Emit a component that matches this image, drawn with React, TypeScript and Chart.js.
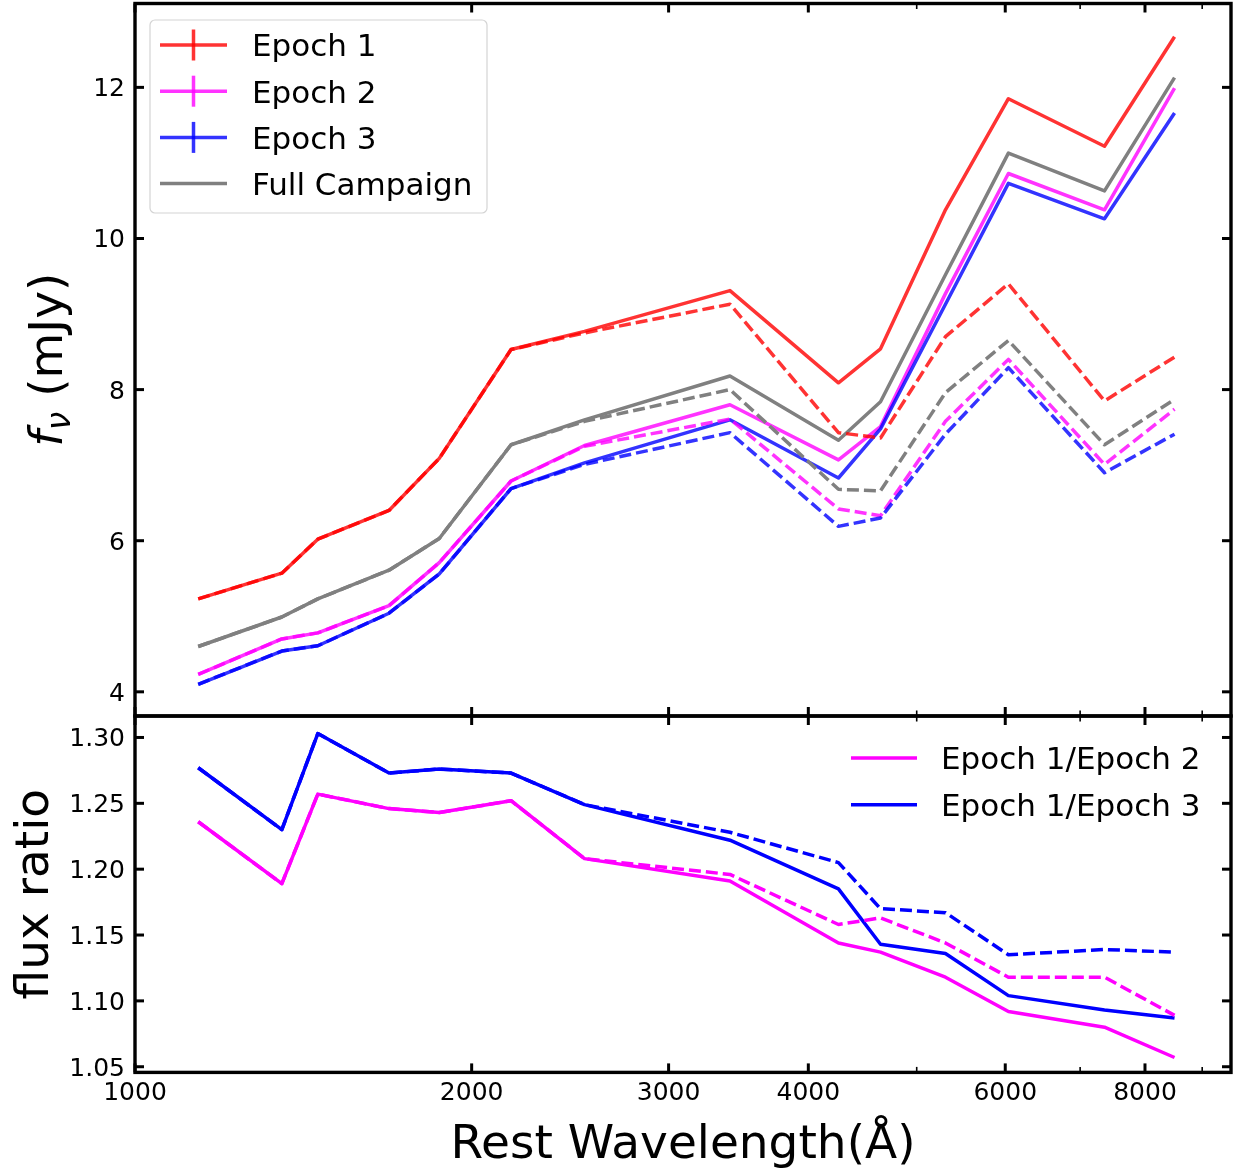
import React, { useEffect, useRef } from 'react';
import { Chart, registerables } from 'chart.js';

Chart.register(...registerables);

// ---------------- data ----------------
const wavelengths = [1139, 1353, 1457, 1687, 1871, 2169, 2523, 3404, 4256, 4641, 5305, 6039, 7360, 8502];

const epoch1 = [5.23, 5.57, 6.02, 6.40, 7.09, 8.53, 8.77, 9.31, 8.09, 8.54, 10.38, 11.85, 11.22, 12.67];
const epoch2 = [4.23, 4.70, 4.78, 5.14, 5.71, 6.79, 7.26, 7.80, 7.07, 7.51, 9.27, 10.86, 10.38, 11.99];
const epoch3 = [4.10, 4.54, 4.61, 5.04, 5.56, 6.69, 7.03, 7.60, 6.83, 7.48, 9.13, 10.73, 10.26, 11.66];
const fullCampaign = [4.60, 4.99, 5.23, 5.61, 6.03, 7.27, 7.60, 8.18, 7.33, 7.84, 9.52, 11.13, 10.63, 12.13];

const epoch1Dashed = [5.23, 5.57, 6.02, 6.40, 7.09, 8.53, 8.75, 9.13, 7.43, 7.36, 8.70, 9.40, 7.85, 8.43];
const epoch2Dashed = [4.23, 4.70, 4.78, 5.14, 5.71, 6.79, 7.25, 7.61, 6.42, 6.33, 7.58, 8.40, 7.01, 7.74];
const epoch3Dashed = [4.10, 4.54, 4.61, 5.04, 5.56, 6.69, 7.01, 7.43, 6.19, 6.30, 7.41, 8.29, 6.90, 7.41];
const fullCampaignDashed = [4.60, 4.99, 5.23, 5.61, 6.03, 7.27, 7.58, 8.00, 6.68, 6.66, 7.96, 8.65, 7.27, 7.87];

const ratio12 = [1.236, 1.189, 1.257, 1.246, 1.243, 1.252, 1.208, 1.191, 1.144, 1.137, 1.118, 1.092, 1.080, 1.057];
const ratio12Dashed = [1.236, 1.189, 1.257, 1.246, 1.243, 1.252, 1.208, 1.196, 1.158, 1.163, 1.144, 1.118, 1.118, 1.089];
const ratio13 = [1.277, 1.230, 1.303, 1.273, 1.276, 1.273, 1.249, 1.222, 1.185, 1.143, 1.136, 1.104, 1.093, 1.087];
const ratio13Dashed = [1.277, 1.230, 1.303, 1.273, 1.276, 1.273, 1.249, 1.228, 1.205, 1.170, 1.167, 1.135, 1.139, 1.137];

const topYTicks = [4, 6, 8, 10, 12];
const topYLabels = ['4', '6', '8', '10', '12'];
const ratioYTicks = [1.05, 1.1, 1.15, 1.2, 1.25, 1.3];
const ratioYLabels = ['1.05', '1.10', '1.15', '1.20', '1.25', '1.30'];
const xMajorTicks = [1000, 2000, 3000, 4000, 6000, 8000];
const xTickLabels = ['1000', '2000', '3000', '4000', '6000', '8000'];
const xMinorTicks = [5000, 7000, 9000];

const topLegendLabels = ['Epoch 1', 'Epoch 2', 'Epoch 3', 'Full Campaign'];
const topLegendErrorbar = [true, true, true, false];
const ratioLegendLabels = ['Epoch 1/Epoch 2', 'Epoch 1/Epoch 3'];

// ---------------- style ----------------
const W = 1235;
const H = 1169;
const FONT = '"DejaVu Sans", "Liberation Sans", sans-serif';
const RED = 'rgba(255,0,0,0.8)';
const MAGENTA_A = 'rgba(255,0,255,0.8)';
const BLUE_A = 'rgba(0,0,255,0.8)';
const GRAY = '#808080';
const MAGENTA = '#ff00ff';
const BLUE = '#0000ff';
const LINE_W = 3.5;

const PLOT_LEFT = 135;
const PLOT_RIGHT = 1231;
const TOP_TOP = 3.5;
const SPLIT = 716;
const BOTTOM_BOTTOM = 1072.4;

function line(ctx: CanvasRenderingContext2D, x1: number, y1: number, x2: number, y2: number) {
  ctx.beginPath();
  ctx.moveTo(x1, y1);
  ctx.lineTo(x2, y2);
  ctx.stroke();
}

function drawFrame(chart: any, yTicks: number[], yLabels: string[], withXLabels: boolean) {
  const ctx: CanvasRenderingContext2D = chart.ctx;
  const a = chart.chartArea;
  const xs = chart.scales.x;
  const ys = chart.scales.y;
  ctx.save();
  ctx.strokeStyle = '#000';
  ctx.lineCap = 'butt';
  ctx.lineWidth = 3;
  for (const v of yTicks) {
    const y = ys.getPixelForValue(v);
    line(ctx, a.left, y, a.left + 9, y);
    line(ctx, a.right, y, a.right - 9, y);
  }
  for (const v of xMajorTicks) {
    const x = xs.getPixelForValue(v);
    line(ctx, x, a.top, x, a.top + 9);
    line(ctx, x, a.bottom, x, a.bottom - 9);
  }
  ctx.lineWidth = 1.6;
  for (const v of xMinorTicks) {
    const x = xs.getPixelForValue(v);
    line(ctx, x, a.top, x, a.top + 5.5);
    line(ctx, x, a.bottom, x, a.bottom - 5.5);
  }
  ctx.lineWidth = 3.4;
  ctx.strokeRect(a.left, a.top, a.right - a.left, a.bottom - a.top);

  ctx.fillStyle = '#000';
  ctx.font = `25px ${FONT}`;
  ctx.textAlign = 'right';
  ctx.textBaseline = 'alphabetic';
  yTicks.forEach((v, i) => {
    ctx.fillText(yLabels[i], a.left - 10, ys.getPixelForValue(v) + 9);
  });
  if (withXLabels) {
    ctx.textAlign = 'center';
    xMajorTicks.forEach((v, i) => {
      ctx.fillText(xTickLabels[i], xs.getPixelForValue(v), a.bottom + 28);
    });
  }
  ctx.restore();
}

type Entry = { label: string; color: string; errorbar: boolean };

function drawLegend(
  ctx: CanvasRenderingContext2D,
  entries: Entry[],
  o: { x0: number; x1: number; textX: number; y0: number; dy: number; frame?: { x: number; y: number; w: number; h: number } }
) {
  ctx.save();
  if (o.frame) {
    const { x, y, w, h } = o.frame;
    const r = 5;
    ctx.beginPath();
    ctx.moveTo(x + r, y);
    ctx.lineTo(x + w - r, y);
    ctx.arcTo(x + w, y, x + w, y + r, r);
    ctx.lineTo(x + w, y + h - r);
    ctx.arcTo(x + w, y + h, x + w - r, y + h, r);
    ctx.lineTo(x + r, y + h);
    ctx.arcTo(x, y + h, x, y + h - r, r);
    ctx.lineTo(x, y + r);
    ctx.arcTo(x, y, x + r, y, r);
    ctx.closePath();
    ctx.fillStyle = 'rgba(255,255,255,0.8)';
    ctx.fill();
    ctx.strokeStyle = '#d4d4d4';
    ctx.lineWidth = 1.2;
    ctx.stroke();
  }
  entries.forEach((e, i) => {
    const y = o.y0 + i * o.dy;
    ctx.strokeStyle = e.color;
    ctx.lineWidth = LINE_W;
    ctx.lineCap = 'butt';
    line(ctx, o.x0, y, o.x1, y);
    if (e.errorbar) {
      const xm = (o.x0 + o.x1) / 2;
      line(ctx, xm, y - 15.5, xm, y + 15.5);
    }
    ctx.fillStyle = '#000';
    ctx.font = `31px ${FONT}`;
    ctx.textAlign = 'left';
    ctx.textBaseline = 'alphabetic';
    ctx.fillText(e.label, o.textX, y + 11.3);
  });
  ctx.restore();
}

const topPlugin = {
  id: 'topDecor',
  afterDraw(chart: any) {
    const ctx: CanvasRenderingContext2D = chart.ctx;
    drawFrame(chart, topYTicks, topYLabels, false);
    // y title: f_nu (mJy)
    ctx.save();
    const a = chart.chartArea;
    const cy = (a.top + a.bottom) / 2;
    ctx.translate(62, cy);
    ctx.rotate(-Math.PI / 2);
    ctx.fillStyle = '#000';
    ctx.textBaseline = 'alphabetic';
    ctx.textAlign = 'left';
    const fFont = `italic 47px ${FONT}`;
    const nuFont = `italic 33px ${FONT}`;
    const rFont = `47px ${FONT}`;
    ctx.font = fFont;
    const wf = ctx.measureText('f').width;
    ctx.font = nuFont;
    const wn = ctx.measureText('ν').width;
    ctx.font = rFont;
    const wr = ctx.measureText(' (mJy)').width;
    let x = -(wf + wn + wr) / 2;
    ctx.font = fFont;
    ctx.fillText('f', x, 0);
    x += wf;
    ctx.font = nuFont;
    ctx.fillText('ν', x, 8);
    x += wn;
    ctx.font = rFont;
    ctx.fillText(' (mJy)', x, 0);
    ctx.restore();

    const solid = chart.data.datasets.filter((d: any) => !d.borderDash);
    drawLegend(
      ctx,
      solid.map((d: any, i: number) => ({ label: topLegendLabels[i], color: d.borderColor, errorbar: topLegendErrorbar[i] })),
      { x0: 160, x1: 227, textX: 252, y0: 45, dy: 46.2, frame: { x: 150, y: 20, w: 337, h: 193 } }
    );
  },
};

const bottomPlugin = {
  id: 'bottomDecor',
  afterDraw(chart: any) {
    const ctx: CanvasRenderingContext2D = chart.ctx;
    drawFrame(chart, ratioYTicks, ratioYLabels, true);
    const a = chart.chartArea;
    ctx.save();
    ctx.fillStyle = '#000';
    ctx.font = `47px ${FONT}`;
    ctx.textAlign = 'center';
    ctx.textBaseline = 'alphabetic';
    ctx.fillText('Rest Wavelength(Å)', (a.left + a.right) / 2, 1158);
    ctx.translate(48, (a.top + a.bottom) / 2);
    ctx.rotate(-Math.PI / 2);
    ctx.fillText('flux ratio', 0, 0);
    ctx.restore();
    const solid = chart.data.datasets.filter((d: any) => !d.borderDash);
    drawLegend(
      ctx,
      solid.map((d: any, i: number) => ({ label: ratioLegendLabels[i], color: d.borderColor, errorbar: false })),
      { x0: 851, x1: 917, textX: 941, y0: 758, dy: 46.7 }
    );
  },
};

function ds(label: string, data: number[], color: string, dashed: boolean, idx: number) {
  return {
    label,
    data: data.map((v, i) => ({ x: wavelengths[i], y: v })),
    borderColor: color,
    backgroundColor: color,
    borderWidth: LINE_W,
    borderDash: dashed ? [12, 5] : undefined,
    borderJoinStyle: 'round' as const,
    borderCapStyle: 'butt' as const,
    pointRadius: 0,
    pointHoverRadius: 0,
    tension: 0,
    fill: false,
    order: -idx,
  };
}

function baseOptions(padding: any, yMin: number, yMax: number) {
  return {
    responsive: false,
    animation: false as const,
    devicePixelRatio: 1,
    layout: { padding },
    events: [] as any[],
    plugins: { legend: { display: false }, tooltip: { enabled: false }, title: { display: false } },
    scales: {
      x: { type: 'logarithmic' as const, min: 1000, max: 9550, display: false },
      y: { type: 'linear' as const, min: yMin, max: yMax, display: false },
    },
  };
}

export default function App() {
  const topRef = useRef<HTMLCanvasElement>(null);
  const botRef = useRef<HTMLCanvasElement>(null);

  useEffect(() => {
    const top = new Chart(topRef.current as HTMLCanvasElement, {
      type: 'line',
      data: {
        datasets: [
          ds('Epoch 1', epoch1, RED, false, 0),
          ds('Epoch 2', epoch2, MAGENTA_A, false, 1),
          ds('Epoch 3', epoch3, BLUE_A, false, 2),
          ds('Full Campaign', fullCampaign, GRAY, false, 3),
          ds('Epoch 1 (dashed)', epoch1Dashed, RED, true, 4),
          ds('Epoch 2 (dashed)', epoch2Dashed, MAGENTA_A, true, 5),
          ds('Epoch 3 (dashed)', epoch3Dashed, BLUE_A, true, 6),
          ds('Full Campaign (dashed)', fullCampaignDashed, GRAY, true, 7),
        ] as any,
      },
      options: baseOptions({ left: PLOT_LEFT, top: TOP_TOP, right: W - PLOT_RIGHT, bottom: H - SPLIT }, 3.68, 13.11) as any,
      plugins: [topPlugin],
    });
    const bottom = new Chart(botRef.current as HTMLCanvasElement, {
      type: 'line',
      data: {
        datasets: [
          ds('Epoch 1/Epoch 2', ratio12, MAGENTA, false, 0),
          ds('Epoch 1/Epoch 3', ratio13, BLUE, false, 1),
          ds('Epoch 1/Epoch 2 (dashed)', ratio12Dashed, MAGENTA, true, 2),
          ds('Epoch 1/Epoch 3 (dashed)', ratio13Dashed, BLUE, true, 3),
        ] as any,
      },
      options: baseOptions({ left: PLOT_LEFT, top: SPLIT, right: W - PLOT_RIGHT, bottom: H - BOTTOM_BOTTOM }, 1.0457, 1.3163) as any,
      plugins: [bottomPlugin],
    });
    return () => {
      top.destroy();
      bottom.destroy();
    };
  }, []);

  return (
    <div style={{ position: 'absolute', left: 0, top: 0, width: W, height: H, background: '#fff' }}>
      <canvas ref={topRef} width={W} height={H} style={{ position: 'absolute', left: 0, top: 0 }} />
      <canvas ref={botRef} width={W} height={H} style={{ position: 'absolute', left: 0, top: 0 }} />
    </div>
  );
}
